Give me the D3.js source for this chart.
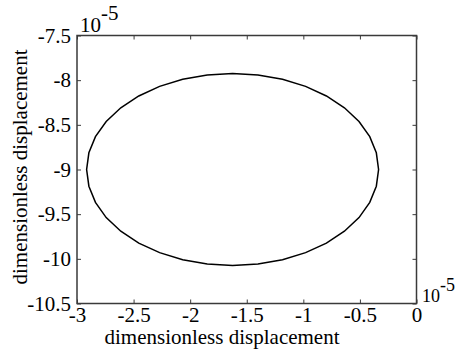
<!DOCTYPE html>
<html>
<head>
<meta charset="utf-8">
<script src="https://cdn.jsdelivr.net/npm/d3@7/dist/d3.min.js"></script>
<style>
  html, body { margin: 0; padding: 0; background: #fff; }
  #chart text { font-family: "Liberation Serif", "Times New Roman", serif; }
</style>
</head>
<body>
<svg id="chart" width="458" height="352"></svg>
<script>
// Orbit samples (units of 1e-5)
const xValues = [-0.335, -0.355, -0.413, -0.508, -0.637, -0.796, -0.980, -1.184, -1.401, -1.625,
  -1.849, -2.066, -2.270, -2.454, -2.613, -2.742, -2.837, -2.895, -2.915, -2.895,
  -2.837, -2.742, -2.613, -2.454, -2.270, -2.066, -1.849, -1.625, -1.401, -1.184,
  -0.980, -0.796, -0.637, -0.508, -0.413, -0.355, -0.335];
const yValues = [-9.000, -8.813, -8.632, -8.463, -8.309, -8.177, -8.069, -7.990, -7.941, -7.925,
  -7.941, -7.990, -8.069, -8.177, -8.309, -8.463, -8.632, -8.813, -9.000, -9.187,
  -9.368, -9.538, -9.691, -9.824, -9.931, -10.010, -10.059, -10.075, -10.059, -10.010,
  -9.931, -9.824, -9.691, -9.538, -9.368, -9.187, -9.000];
const xTicks = [-3, -2.5, -2, -1.5, -1, -0.5, 0];
const yTicks = [-7.5, -8, -8.5, -9, -9.5, -10, -10.5];
const xTitle = "dimensionless displacement";
const yTitle = "dimensionless displacement";

const FONT = '"Liberation Serif", "Times New Roman", serif';
const svg = d3.select("#chart");
const plotL = 77, plotR = 416.5, plotT = 35.5, plotB = 303.5;

const x = d3.scaleLinear().domain([-3, 0]).range([plotL, plotR]);
const y = d3.scaleLinear().domain([-10.5, -7.5]).range([plotB, plotT]);

const axisColor = "#3a3a3a";
const tickLen = 4;
const tickFont = 21;
const fmt = d => String(d);

function styleAxis(g) {
  g.attr("font-family", FONT).attr("font-size", tickFont);
  g.select(".domain").remove();
  g.selectAll(".tick line").attr("stroke", axisColor).attr("stroke-width", 1);
  g.selectAll(".tick text")
    .attr("font-family", FONT)
    .attr("font-size", tickFont)
    .attr("fill", "#000");
}

// bottom axis (labels) with inward ticks
svg.append("g").attr("transform", `translate(0,${plotB})`)
  .call(d3.axisBottom(x).tickValues(xTicks).tickFormat(fmt).tickSizeInner(-tickLen).tickSizeOuter(0).tickPadding(4))
  .call(styleAxis);
// top axis ticks only
svg.append("g").attr("transform", `translate(0,${plotT})`)
  .call(d3.axisTop(x).tickValues(xTicks).tickFormat("").tickSizeInner(-tickLen).tickSizeOuter(0))
  .call(styleAxis);
// left axis (labels)
svg.append("g").attr("transform", `translate(${plotL},0)`)
  .call(d3.axisLeft(y).tickValues(yTicks).tickFormat(fmt).tickSizeInner(-tickLen).tickSizeOuter(0).tickPadding(6))
  .call(styleAxis);
// right axis ticks only
svg.append("g").attr("transform", `translate(${plotR},0)`)
  .call(d3.axisRight(y).tickValues(yTicks).tickFormat("").tickSizeInner(-tickLen).tickSizeOuter(0))
  .call(styleAxis);

// plot box
svg.append("rect")
  .attr("x", plotL).attr("y", plotT)
  .attr("width", plotR - plotL).attr("height", plotB - plotT)
  .attr("fill", "none").attr("stroke", axisColor).attr("stroke-width", 1.5);

// orbit curve
const pts = xValues.map((v, i) => [v, yValues[i]]);
svg.append("path")
  .datum(pts)
  .attr("d", d3.line().x(d => x(d[0])).y(d => y(d[1])))
  .attr("fill", "none").attr("stroke", "#000").attr("stroke-width", 1.5);

// exponent labels for both axes
function expLabel(px, py, size, rise) {
  const t = svg.append("text").attr("x", px).attr("y", py)
    .attr("font-family", FONT).attr("font-size", size);
  t.append("tspan").text("10");
  t.append("tspan").attr("dy", -rise).text("-5");
}
expLabel(80, 32, 21, 12);
expLabel(422, 302, 18, 11);

// axis titles
svg.append("text")
  .attr("x", 222).attr("y", 344)
  .attr("text-anchor", "middle")
  .attr("font-family", FONT).attr("font-size", 21)
  .text(xTitle);
svg.append("text")
  .attr("transform", `translate(27,167) rotate(-90)`)
  .attr("text-anchor", "middle")
  .attr("font-family", FONT).attr("font-size", 21)
  .text(yTitle);
</script>
</body>
</html>
